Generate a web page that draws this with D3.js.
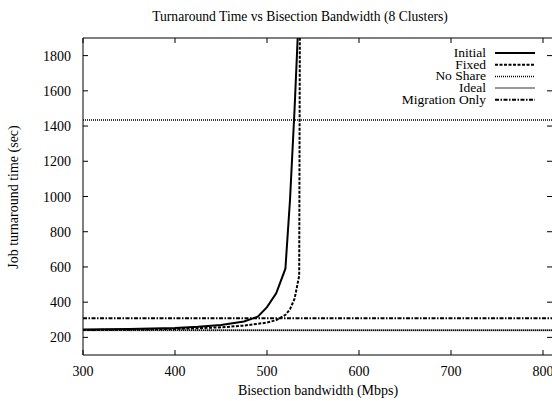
<!DOCTYPE html>
<html>
<head>
<meta charset="utf-8">
<script src="https://cdn.jsdelivr.net/npm/d3@7"></script>
<style>
  body { margin: 0; background: #fff; }
  svg { display: block; font-family: "Liberation Serif", "DejaVu Serif", serif; }
</style>
</head>
<body>
<svg id="chart" width="552" height="401"></svg>
<script>
// bandwidth samples (Mbps) and turnaround times (sec)
const initialX = [300, 350, 400, 425, 450, 475, 490, 500, 510, 520, 525, 530, 535];
const initialY = [245, 248, 254, 260, 270, 290, 318, 372, 450, 590, 980, 1500, 2100];
const fixedX = [300, 350, 400, 450, 475, 500, 510, 520, 525, 530, 535, 536];
const fixedY = [242, 244, 248, 257, 267, 284, 298, 328, 360, 420, 550, 2500];
const noShareTime = 1435;
const idealTime = 241;
const migrationTime = 308;
const xTicks = [300, 400, 500, 600, 700, 800];
const yTicks = [200, 400, 600, 800, 1000, 1200, 1400, 1600, 1800];
const legendNames = ["Initial", "Fixed", "No Share", "Ideal", "Migration Only"];

const svg = d3.select("#chart");
const plotLeft = 83, plotTop = 38, plotBottom = 355;
const fs = 14;

// 300..800 maps onto 83..543, the frame runs past the right edge
const x = d3.scaleLinear().domain([300, 850]).range([plotLeft, plotLeft + 550 * 0.92]);
const y = d3.scaleLinear().domain([100, 1900]).range([plotBottom, plotTop]);
const plotRight = x(850);

const defs = svg.append("defs");
defs.append("clipPath").attr("id", "plotclip")
  .append("rect").attr("x", plotLeft).attr("y", plotTop)
  .attr("width", plotRight - plotLeft).attr("height", plotBottom - plotTop);

// styles for each series
const styles = {
  "Initial": { stroke: "#000", width: 2, dash: null },
  "Fixed": { stroke: "#000", width: 2, dash: "3,1.5" },
  "No Share": { stroke: "#000", width: 1.5, dash: "1,1" },
  "Ideal": { stroke: "#999", width: 2, dash: null },
  "Migration Only": { stroke: "#000", width: 2, dash: "4,1.5,1.5,1.5" }
};

// title and axis labels
svg.append("text").attr("x", 300).attr("y", 21).attr("text-anchor", "middle")
  .attr("font-size", 13.6).text("Turnaround Time vs Bisection Bandwidth (8 Clusters)");
svg.append("text").attr("x", 318).attr("y", 395).attr("text-anchor", "middle")
  .attr("font-size", fs).text("Bisection bandwidth (Mbps)");
svg.append("text").attr("transform", "translate(18,197) rotate(-90)").attr("text-anchor", "middle")
  .attr("font-size", fs).text("Job turnaround time (sec)");

// tick labels
svg.selectAll(".xl").data(xTicks).enter().append("text")
  .attr("x", d => x(d)).attr("y", 376).attr("text-anchor", "middle")
  .attr("font-size", fs).text(d => d);
svg.selectAll(".yl").data(yTicks).enter().append("text")
  .attr("x", 71).attr("y", d => y(d) + 5).attr("text-anchor", "end")
  .attr("font-size", fs).text(d => d);

// tick marks on all four sides, pointing inward
const tk = svg.append("g").attr("stroke", "#000").attr("stroke-width", 1);
xTicks.forEach(d => {
  tk.append("line").attr("x1", x(d)).attr("x2", x(d)).attr("y1", plotBottom).attr("y2", plotBottom - 5);
  tk.append("line").attr("x1", x(d)).attr("x2", x(d)).attr("y1", plotTop).attr("y2", plotTop + 5);
});
yTicks.forEach(d => {
  tk.append("line").attr("x1", plotLeft).attr("x2", plotLeft + 5).attr("y1", y(d)).attr("y2", y(d));
  tk.append("line").attr("x1", 547).attr("x2", 552).attr("y1", y(d)).attr("y2", y(d));
});

const plot = svg.append("g").attr("clip-path", "url(#plotclip)");
const line = d3.line().x(d => x(d[0])).y(d => y(d[1]));

function hline(val, st) {
  plot.append("line").attr("x1", plotLeft).attr("x2", plotRight)
    .attr("y1", y(val)).attr("y2", y(val))
    .attr("stroke", st.stroke).attr("stroke-width", st.width)
    .attr("stroke-dasharray", st.dash);
}

hline(noShareTime, styles["No Share"]);
hline(idealTime, styles["Ideal"]);
hline(idealTime, styles["No Share"]);
hline(migrationTime, styles["Migration Only"]);

plot.append("path").datum(d3.zip(fixedX, fixedY)).attr("d", line)
  .attr("fill", "none").attr("stroke", styles["Fixed"].stroke)
  .attr("stroke-width", styles["Fixed"].width).attr("stroke-dasharray", styles["Fixed"].dash);
plot.append("path").datum(d3.zip(initialX, initialY)).attr("d", line)
  .attr("fill", "none").attr("stroke", styles["Initial"].stroke)
  .attr("stroke-width", styles["Initial"].width);

// frame
svg.append("path").attr("d", `M${plotRight},${plotTop}H${plotLeft}V${plotBottom}H${plotRight}`)
  .attr("fill", "none").attr("stroke", "#000").attr("stroke-width", 1);

// legend
const lg = svg.append("g");
legendNames.forEach((n, i) => {
  const ly = 53 + i * 11.7;
  lg.append("text").attr("x", 486).attr("y", ly + 4).attr("text-anchor", "end")
    .attr("font-size", 13.5).text(n);
  const st = styles[n];
  lg.append("line").attr("x1", 495).attr("x2", 535).attr("y1", ly).attr("y2", ly)
    .attr("stroke", st.stroke).attr("stroke-width", st.width).attr("stroke-dasharray", st.dash);
});
</script>
</body>
</html>
